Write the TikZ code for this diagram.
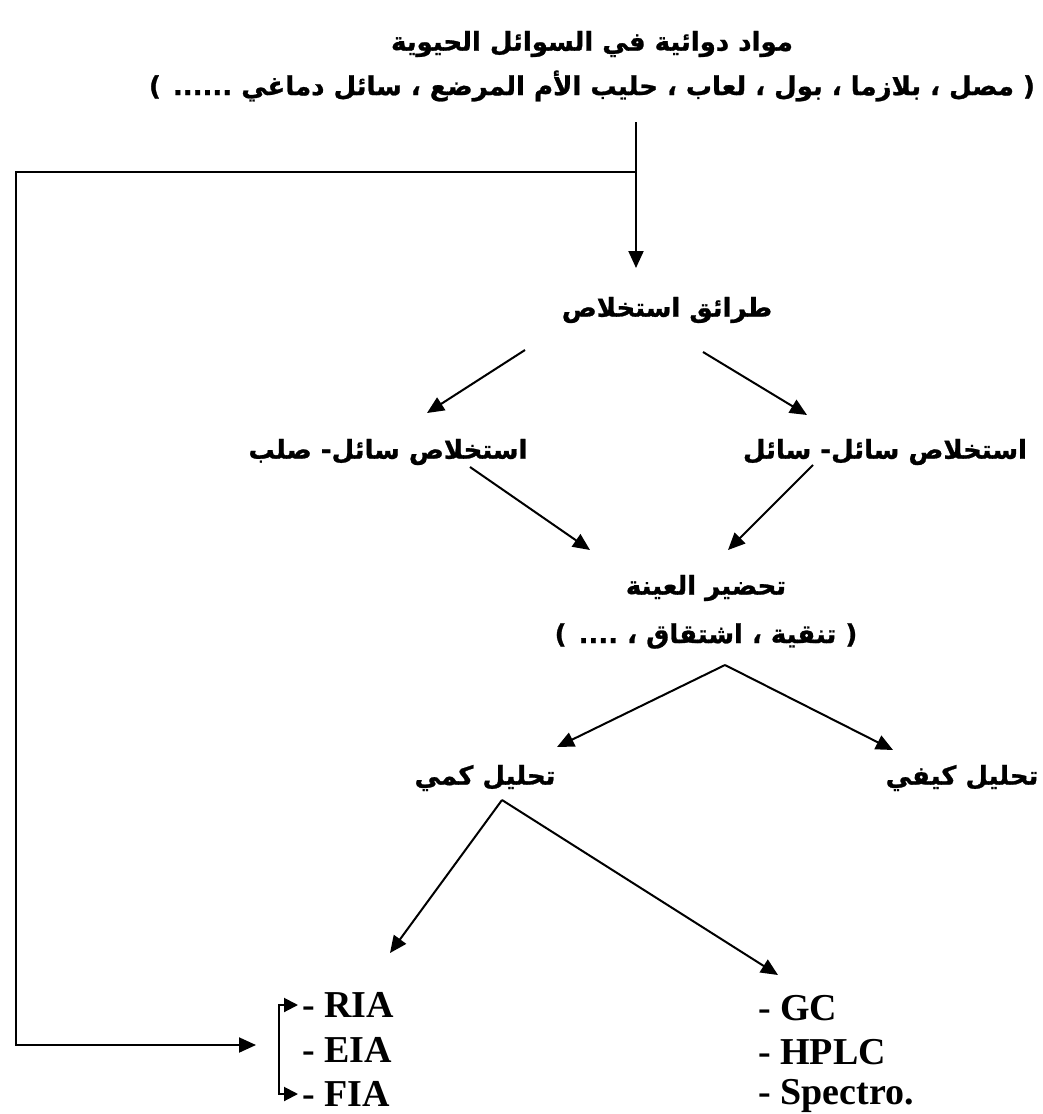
\documentclass[tikz,border=0pt]{standalone}
\usepackage{fontspec}
\setmainfont{Liberation Serif}
\newfontfamily\arabicfont[Script=Arabic,BoldFeatures={FakeBold=1}]{DejaVu Sans}
\TeXXeTstate=1
\usetikzlibrary{arrows.meta}
\begin{document}
\begin{tikzpicture}[x=1pt,y=-1pt,
  ar/.style={font=\arabicfont\bfseries\fontsize{26}{30}\selectfont, inner sep=0pt},
  lat/.style={font=\bfseries\fontsize{38}{44}\selectfont, inner sep=0pt, anchor=west},
  ln/.style={line width=2pt},
  arr/.style={ln, -{Triangle[length=17pt,width=15pt]}},
  brk/.style={ln, {Triangle[length=14pt,width=14pt]}-{Triangle[length=14pt,width=14pt]}}]
\useasboundingbox (0,0) rectangle (1042,1114);
% texts
\node[ar] (t1) at (592,44) {\beginR مواد دوائية في السوائل الحيوية\endR};
\node[ar] (t2) at (592,86) {\beginR( مصل ، بلازما ، بول ، لعاب ، حليب الأم المرضع ، سائل دماغي ...... )\endR};
\node[ar] (m) at (667,310) {\beginR طرائق استخلاص\endR};
\node[ar] (ls) at (388,452) {\beginR استخلاص سائل- صلب\endR};
\node[ar] (ll) at (885,452) {\beginR استخلاص سائل- سائل\endR};
\node[ar] (p1) at (706,588) {\beginR تحضير العينة\endR};
\node[ar] (p2) at (706,636) {\beginR( تنقية ، اشتقاق ، .... )\endR};
\node[ar] (q1) at (485,778) {\beginR تحليل كمي\endR};
\node[ar] (q2) at (962,778) {\beginR تحليل كيفي\endR};
\node[lat] (ria) at (302,1005) {- RIA};
\node[lat] (eia) at (302,1050) {- EIA};
\node[lat] (fia) at (302,1094) {- FIA};
\node[lat] (gc) at (758,1008) {- GC};
\node[lat] (hplc) at (758,1052) {- HPLC};
\node[lat] (spec) at (758,1096) {- Spectro.};
% coordinates
\coordinate (j0) at (636,122);
\coordinate (j) at (636,172);
\coordinate (jt) at (636,268);
\coordinate (c1) at (16,172);
\coordinate (c2) at (16,1045);
\coordinate (c3) at (256,1045);
\coordinate (ms1) at (525,350);
\coordinate (ms2) at (703,352);
\coordinate (lst) at (427,413);
\coordinate (llt) at (807,415);
\coordinate (lss) at (470,467);
\coordinate (lls) at (813,465);
\coordinate (pt1) at (590,550);
\coordinate (pt2) at (728,550);
\coordinate (pa) at (725,665);
\coordinate (q1t) at (557,747);
\coordinate (q2t) at (893,750);
\coordinate (qa) at (502,800);
\coordinate (riat) at (390,953);
\coordinate (gct) at (778,975);
\coordinate (bx) at (279,1045);
% connectors
\draw[arr] (j0) -- (jt);
\draw[arr] (j) -- (c1) -- (c2) -- (c3);
\draw[arr] (ms1) -- (lst);
\draw[arr] (ms2) -- (llt);
\draw[arr] (lss) -- (pt1);
\draw[arr] (lls) -- (pt2);
\draw[arr] (pa) -- (q1t);
\draw[arr] (pa) -- (q2t);
\draw[arr] (qa) -- (riat);
\draw[arr] (qa) -- (gct);
\draw[brk] ([xshift=-4pt]ria.west) -| (bx) |- ([xshift=-4pt]fia.west);
\end{tikzpicture}
\end{document}
